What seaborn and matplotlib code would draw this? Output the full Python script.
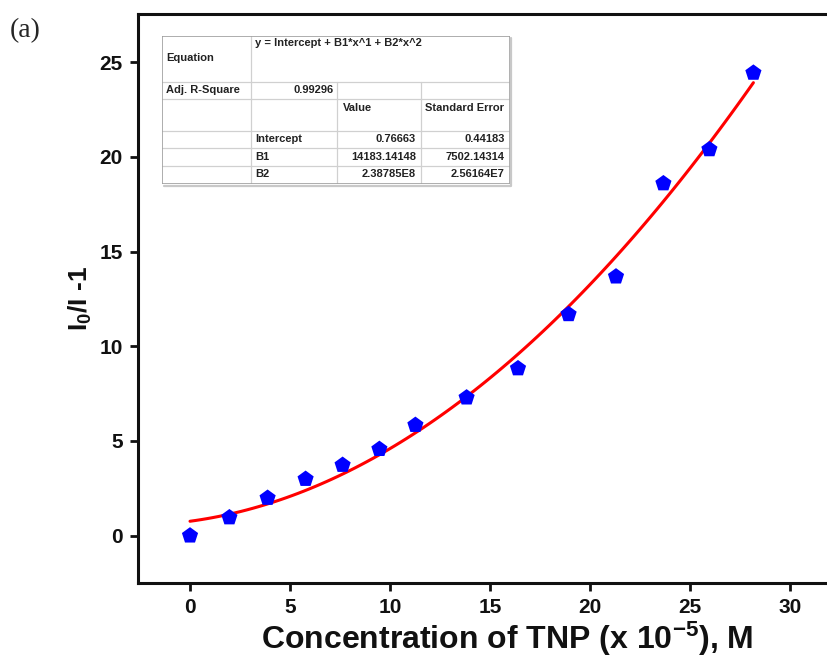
import numpy as np
import pandas as pd
import seaborn as sns
import matplotlib.pyplot as plt

# concentration of TNP (x 1e-5 M) and quenching response I0/I - 1
conc = [0, 1.97, 3.88, 5.78, 7.63, 9.47, 11.27, 13.83, 16.4, 18.93, 21.3, 23.67, 25.97, 28.17]
resp = [0, 0.96, 1.99, 2.99, 3.73, 4.57, 5.84, 7.29, 8.83, 11.69, 13.68, 18.6, 20.4, 24.44]

x_ticks = [0, 5, 10, 15, 20, 25, 30]
y_ticks = [0, 5, 10, 15, 20, 25]

# fit report table (Origin style)
eq_text = "y = Intercept + B1*x^1 + B2*x^2"
adj_r2 = "0.99296"
param_names = ["Intercept", "B1", "B2"]
param_values = ["0.76663", "14183.14148", "2.38785E8"]
param_errors = ["0.44183", "7502.14314", "2.56164E7"]

sns.set_style("ticks")
plt.rcParams["font.family"] = ["Liberation Sans", "DejaVu Sans"]
plt.rcParams["mathtext.fontset"] = "custom"
plt.rcParams["mathtext.rm"] = "Liberation Sans:bold"
plt.rcParams["mathtext.it"] = "Liberation Sans:bold"
plt.rcParams["mathtext.bf"] = "Liberation Sans:bold"

df = pd.DataFrame({"conc": conc, "resp": resp})

W, H = 828, 657
fig = plt.figure(figsize=(W / 100, H / 100), dpi=100)
ax = fig.add_axes([138 / W, 1 - 583 / H, (876 - 138) / W, (583 - 14) / H])

sns.regplot(data=df, x="conc", y="resp", order=2, ci=None, scatter=False,
            truncate=True, ax=ax, line_kws={"color": "#ff0000", "lw": 2.2})
sns.scatterplot(data=df, x="conc", y="resp", ax=ax, marker="p", s=150,
                color="#0000ff", edgecolor="none", zorder=3)

ax.set_xlim(-2.6, 34.3)
ax.set_ylim(-2.5, 27.55)
ax.set_xticks(x_ticks)
ax.set_yticks(y_ticks)
for s in ax.spines.values():
    s.set_linewidth(2.2)
    s.set_color("#111111")
ax.tick_params(width=2, length=6, labelsize=15, pad=5, color="#111111",
               labelcolor="#111111")
for lab in ax.get_xticklabels() + ax.get_yticklabels():
    lab.set_fontweight("bold")

ax.set_xlabel(r"Concentration of TNP (x 10$^{-5}$), M", fontsize=23,
              fontweight="bold", labelpad=2, color="#111111")
ax.set_ylabel(r"I$_0$/I -1", fontsize=19, fontweight="bold", labelpad=4,
              color="#111111")

fig.text(10 / W, 1 - 31 / H, "(a)", family="Liberation Serif", fontsize=20,
         va="center", ha="left")

# table drawn in its own pixel-space axes
tx0, ty0, tx1, ty1 = 162, 36, 510, 184
tab = fig.add_axes([tx0 / W, 1 - ty1 / H, (tx1 - tx0) / W, (ty1 - ty0) / H])
tw, th = tx1 - tx0, ty1 - ty0
tab.set_xlim(0, tw)
tab.set_ylim(th, 0)
tab.axis("off")
tab.add_patch(plt.Rectangle((0, 0), tw, th, facecolor="white", edgecolor="none", zorder=0))

grid = "#d0d0d0"
cols = [89, 175, 259]
rows = [46, 63, 95, 112, 130]
for y in rows:
    tab.plot([0, tw], [y, y], color=grid, lw=0.9)
tab.plot([cols[0], cols[0]], [0, th], color=grid, lw=0.9)
for c in cols[1:]:
    tab.plot([c, c], [rows[0], th], color=grid, lw=0.9)
# border with a soft shadow on right / bottom
tab.plot([0, tw, tw, 0, 0], [0, 0, th, th, 0], color="#a0a0a0", lw=1.2)
tab.plot([2, tw + 1.5, tw + 1.5], [th + 1.5, th + 1.5, 2], color="#c8c8c8", lw=1.6,
         clip_on=False)

fs = 8
tkw = dict(fontsize=fs, fontweight="bold", color="#222222", va="center")
tab.text(4, 22, "Equation", ha="left", **tkw)
tab.text(93, 7, eq_text, ha="left", **tkw)
tab.text(4, 54, "Adj. R-Square", ha="left", **tkw)
tab.text(172, 54, adj_r2, ha="right", **tkw)
tab.text(181, 72, "Value", ha="left", **tkw)
tab.text(263, 72, "Standard Error", ha="left", **tkw)
for i, (n, v, e) in enumerate(zip(param_names, param_values, param_errors)):
    yy = 103 + i * 17.5
    tab.text(93, yy, n, ha="left", **tkw)
    tab.text(254, yy, v, ha="right", **tkw)
    tab.text(343, yy, e, ha="right", **tkw)

fig.savefig("out.png", dpi=100)
